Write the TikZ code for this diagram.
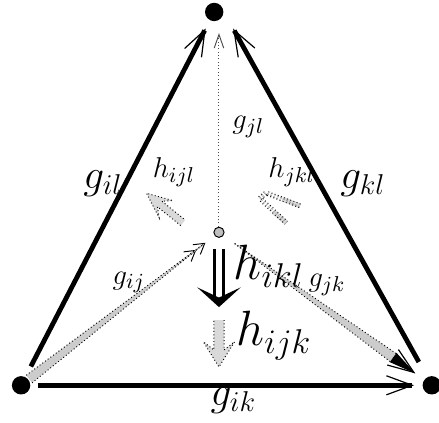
\documentclass[tikz,border=0pt]{standalone}
\usetikzlibrary{arrows.meta,calc}

\begin{document}
\begin{tikzpicture}[
    vertex/.style={circle,fill=black,inner sep=0pt,minimum size=0.27cm},
    centre/.style={circle,draw=black,fill=gray!50,line width=0.4pt,inner sep=0pt,minimum size=0.15cm},
    side/.style={line width=2pt,-{Straight Barb[length=3.8mm,width=2.8mm,line width=0.5pt]}},
    dline/.style={line width=0.4pt,densely dotted},
    band/.style={fill=gray!30,draw=black,densely dotted,line width=0.4pt},
    lbl/.style={anchor=base west,inner sep=0pt},
    small/.style={font=\fontsize{13}{15}\selectfont},
    big/.style={font=\fontsize{18}{21}\selectfont},
    huge/.style={font=\fontsize{21.5}{25}\selectfont},
    harrow/.pic={\filldraw[band] (0,0.075) -- (0.44,0.075) -- (0.32,0.23) -- (0.69,0) -- (0.32,-0.23) -- (0.44,-0.075) -- (0,-0.075);},
    hblack/.pic={
      \draw[line width=1.2pt] (0,0.07) -- (0.7,0.07) (0,-0.07) -- (0.7,-0.07);
      \fill (0.56,0.32) -- (0.85,0) -- (0.56,-0.32) -- (0.71,0) -- cycle;}
  ]
  \useasboundingbox (0,0) rectangle (6.456,6.206);
  % vertices
  \node[vertex] (l) at (3.15,6.03) {};
  \node[vertex] (i) at (0.31,0.54) {};
  \node[vertex] (k) at (6.35,0.54) {};
  \node[centre] (j) at (3.22,2.79) {};
  % outer edges
  \draw[side,shorten <=0.17cm,shorten >=0.13cm] (i) -- (l);
  \draw[side,shorten <=0.25cm,shorten >=0.28cm] (k) -- (l.east);
  \draw[side,shorten <=0.1cm,shorten >=0.12cm] (i) -- (k);
  % g_jl
  \draw[dline,black!70,-{Straight Barb[length=2mm,width=1.4mm,line width=0.4pt]},shorten >=0.31cm] (j) -- (j |- l);
  % g_ij
  \draw[dline,-{Straight Barb[length=1.5mm,width=1.8mm,line width=0.4pt] Straight Barb[length=1.5mm,width=1.8mm,line width=0.4pt]},shorten <=1.8cm,shorten >=0.17cm] (i) -- (j);
  \filldraw[band,fill=gray!40] ($(i)!0.15cm!(j)!2pt!90:(j)$) -- ($(j)!0.25cm!(i)$) -- ($(i)!0.15cm!(j)!2pt!-90:(j)$);
  % g_jk
  \coordinate (jka) at ($(j)!0.27cm!(k)$);
  \coordinate (jkb) at ($(k)!0.7cm!(j)$);
  \coordinate (jkc) at ($(k)!0.3cm!(j)$);
  \draw[dline,shorten <=0.2cm,shorten >=1cm] (j) -- (k);
  \fill[gray!40] (jka) -- ($(jkb)!2.1pt!90:(k)$) -- ($(jkb)!2.1pt!-90:(k)$) -- cycle;
  \draw[dline] ($(jkb)!2.1pt!90:(k)$) -- (jka) -- ($(jkb)!2.1pt!-90:(k)$);
  \fill ($(jkb)!2.4pt!90:(k)$) -- (jkc) -- ($(jkb)!2.4pt!-90:(k)$) -- cycle;
  \draw[line width=0.4pt,-{Straight Barb[length=3.8mm,width=2.8mm,line width=0.5pt]}] (jkb) -- (jkc);
  % 2-cells
  \pic[rotate=-90] at (3.22,2.54) {hblack};
  \pic[rotate=-90] at (3.22,1.5) {harrow};
  \pic[rotate=141,yscale=0.7] at (2.69,2.93) {harrow};
  \draw[gray!30,line width=2pt] (4.15,3.28) -- (4.41,3.18);
  \draw[gray!30,line width=2pt] (4.02,3.09) -- (4.21,2.93);
  \draw[dline,double=gray!30,double distance=1.2pt] (4.41,3.18) -- (3.91,3.37) -- (3.82,3.29) -- (4.21,2.93);
  % labels
  \node[lbl,big] (gil) at (1.22,3.44) {$g_{il}$};
  \node[lbl,big] (gkl) at (5.0,3.44) {$g_{kl}$};
  \node[lbl,big] (gik) at (3.09,0.25) {$g_{ik}$};
  \node[lbl,small] (gjl) at (3.41,4.32) {$g_{jl}$};
  \node[lbl,small] (gij) at (1.65,2.02) {$g_{ij}$};
  \node[lbl,small] (gjk) at (4.53,1.99) {$g_{jk}$};
  \node[lbl,small] (hijl) at (2.24,3.59) {$h_{ijl}$};
  \node[lbl,small] (hjkl) at (3.94,3.59) {$h_{jkl}$};
  \node[lbl,huge] (hikl) at (3.43,2.09) {$h_{ikl}$};
  \node[lbl,huge] (hijk) at (3.47,1.12) {$h_{ijk}$};
\end{tikzpicture}
\end{document}
